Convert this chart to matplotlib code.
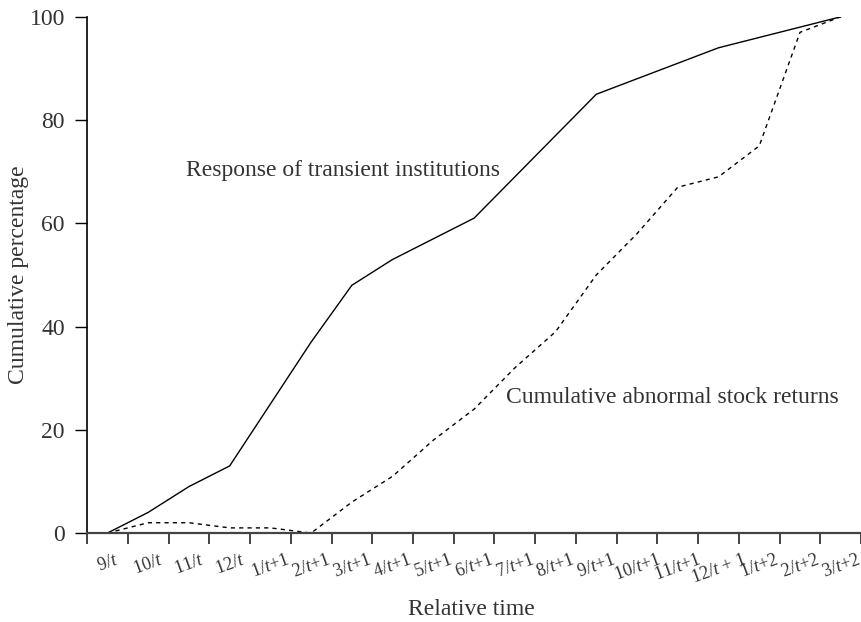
import numpy as np
import matplotlib.pyplot as plt

plt.rcParams["font.family"] = ["Liberation Serif", "DejaVu Serif"]
plt.rcParams["mathtext.fontset"] = "custom"
plt.rcParams["mathtext.rm"] = "Liberation Serif"
plt.rcParams["mathtext.it"] = "Liberation Serif:italic"

months = [r"9/$t$", r"10/$t$", r"11/$t$", r"12/$t$",
          r"1/$t$+1", r"2/$t$+1", r"3/$t$+1", r"4/$t$+1", r"5/$t$+1",
          r"6/$t$+1", r"7/$t$+1", r"8/$t$+1", r"9/$t$+1", r"10/$t$+1",
          r"11/$t$+1", r"12/$t$ + 1", r"1/$t$+2", r"2/$t$+2", r"3/$t$+2"]
transient = [0, 4, 9, 13, 25, 37, 48, 53, 57, 61, 69, 77, 85, 88, 91, 94, 96, 98, 100]
abnormal = [0, 2, 2, 1, 1, 0, 6, 11, 18, 24, 32, 39, 50, 58, 67, 69, 75, 97, 100]

ink = "#333333"
fig = plt.figure(figsize=(8.62, 6.22), dpi=100)
ax = fig.add_axes([0.101, 0.143, 0.898, 0.83])

x = np.arange(len(months))
ax.plot(x, transient, color="black", lw=1.0)
ax.plot(x, abnormal, color="black", lw=1.0, linestyle=(0, (3, 3)))

ax.text(1.92, 70.3, "Response of transient institutions", fontsize=17,
        color=ink, va="center", ha="left")
ax.text(9.78, 26.2, "Cumulative abnormal stock returns", fontsize=17,
        color=ink, va="center", ha="left")

ax.set_xlim(-0.5, len(months) - 0.5)
ax.set_ylim(0, 100)
ax.set_xticks(np.arange(len(months) + 1) - 0.5)
ax.set_xticklabels([])
ax.set_xticks(x, minor=True)
ax.set_xticklabels(months, minor=True, rotation=20, ha="center",
                   fontsize=13, color=ink)
ax.tick_params(axis="x", which="major", length=8, width=1.2, color="#222222")
ax.tick_params(axis="x", which="minor", length=0, pad=13)
ax.set_yticks(np.arange(0, 101, 20))
ax.tick_params(axis="y", length=9, width=1.0, pad=7, labelsize=17,
               labelcolor=ink)

for side in ["top", "right"]:
    ax.spines[side].set_visible(False)
ax.spines["left"].set_linewidth(1.2)
ax.spines["bottom"].set_linewidth(1.6)
ax.spines["bottom"].set_color("#444444")

ax.set_xlabel("Relative time", fontsize=17, color=ink)
ax.xaxis.set_label_coords(0.497, -0.128)
ax.set_ylabel("Cumulative percentage", fontsize=17, color=ink)
ax.yaxis.set_label_coords(-0.0745, 0.5)

fig.savefig("out.png", dpi=100)
